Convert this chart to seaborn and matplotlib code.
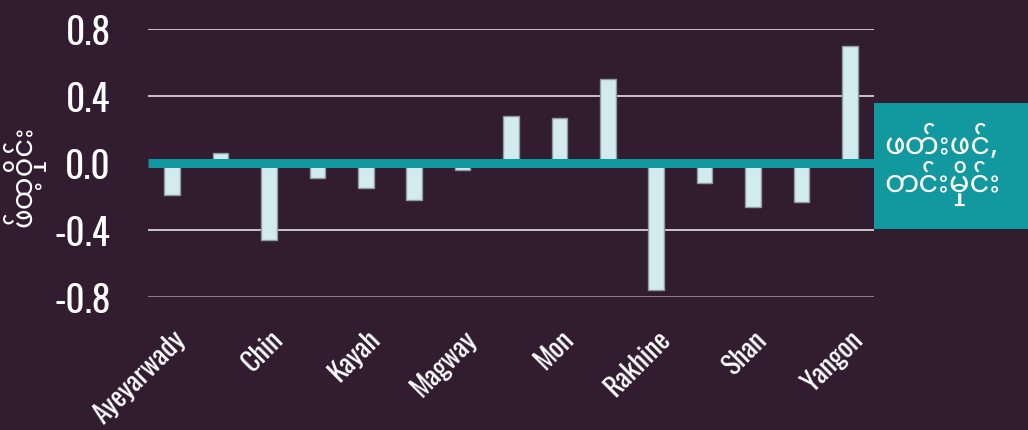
import pandas as pd
import seaborn as sns
import matplotlib.pyplot as plt
import matplotlib.transforms as mtransforms
from matplotlib import font_manager
from matplotlib.patches import Rectangle

regions = ['Ayeyarwady', 'Bago', 'Chin', 'Kachin', 'Kayah', 'Kayin', 'Magway',
           'Mandalay', 'Mon', 'Naypyitaw', 'Rakhine', 'Sagaing', 'Shan',
           'Tanintharyi', 'Yangon']
values = [-0.19, 0.06, -0.46, -0.09, -0.15, -0.22, -0.04,
          0.28, 0.27, 0.50, -0.76, -0.12, -0.26, -0.23, 0.70]
shown_labels = ['Ayeyarwady', 'Chin', 'Kayah', 'Magway', 'Mon', 'Rakhine', 'Shan', 'Yangon']
y_ticks = [-0.8, -0.4, 0.0, 0.4, 0.8]
y_label = 'ဖ်ထ့ဝှိုင်း'
box_label = 'ဖတ်းဖင်,\nတင်းမှိုင်း'

bg = '#311c30'
teal = '#12989f'
bar_color = '#d2ebef'

df = pd.DataFrame({'region': regions, 'value': values})

sns.set_style('dark')
names = {f.name for f in font_manager.fontManager.ttflist}
main_font = next((n for n in ['Oswald', 'Barlow Condensed'] if n in names), 'DejaVu Sans')
mm_font = next((n for n in ['Noto Sans Myanmar', 'Myanmar Sans Pro', 'Padauk'] if n in names), 'DejaVu Sans')
plt.rcParams['font.family'] = [main_font, 'DejaVu Sans']
mm_family = [mm_font, 'DejaVu Sans']

fig = plt.figure(figsize=(10.28, 4.31), dpi=100, facecolor=bg)
ax = fig.add_axes([148 / 1028, 1 - 298 / 431, (874 - 148) / 1028, (298 - 30) / 431])
ax.set_facecolor(bg)

for t in [-0.8, -0.4, 0.4, 0.8]:
    ax.axhline(t, color='#e6e0e6' if t > -0.8 else '#9a8f9a', lw=1.2, zorder=1)

sns.barplot(data=df, x='region', y='value', color=bar_color, width=0.32,
            edgecolor='#8f9aa0', linewidth=1, saturation=1, ax=ax, zorder=2)

ax.axhline(0, color=teal, lw=6.5, zorder=3, solid_capstyle='butt')

ax.set_xlim(-0.5, 14.5)
ax.set_ylim(-0.8, 0.8)
ax.set_yticks(y_ticks)
ax.set_yticklabels([f'{v:.1f}' for v in y_ticks], fontsize=27, fontweight='medium', color='white')

ax.set_xticks([regions.index(r) for r in shown_labels])
ax.set_xticklabels(shown_labels, rotation=45, ha='right', rotation_mode='anchor',
                   fontsize=20, fontweight='medium', color='white')
shift = mtransforms.ScaledTranslation(8 / 100, 0, fig.dpi_scale_trans)
for lbl in ax.get_xticklabels():
    lbl.set_transform(lbl.get_transform() + shift)
ax.tick_params(axis='x', length=0, pad=20)
ax.tick_params(axis='y', length=0, pad=27)
ax.set_xlabel('')
ax.set_ylabel('')
ax.grid(False)
for s in ax.spines.values():
    s.set_visible(False)

fig.text(0.022, 1 - 176 / 431, y_label, rotation=90, ha='center', va='center',
         fontsize=21, color='white', family=mm_family)

fig.patches.append(Rectangle((874 / 1028, 1 - 230 / 431), 154 / 1028, 126 / 431,
                             transform=fig.transFigure, facecolor=teal,
                             edgecolor='none', zorder=0))
fig.text(884 / 1028, 1 - 166 / 431, box_label, ha='left', va='center',
         fontsize=22, color='white', family=mm_family, linespacing=1.0)

plt.savefig('out.png', dpi=100, facecolor=bg)
